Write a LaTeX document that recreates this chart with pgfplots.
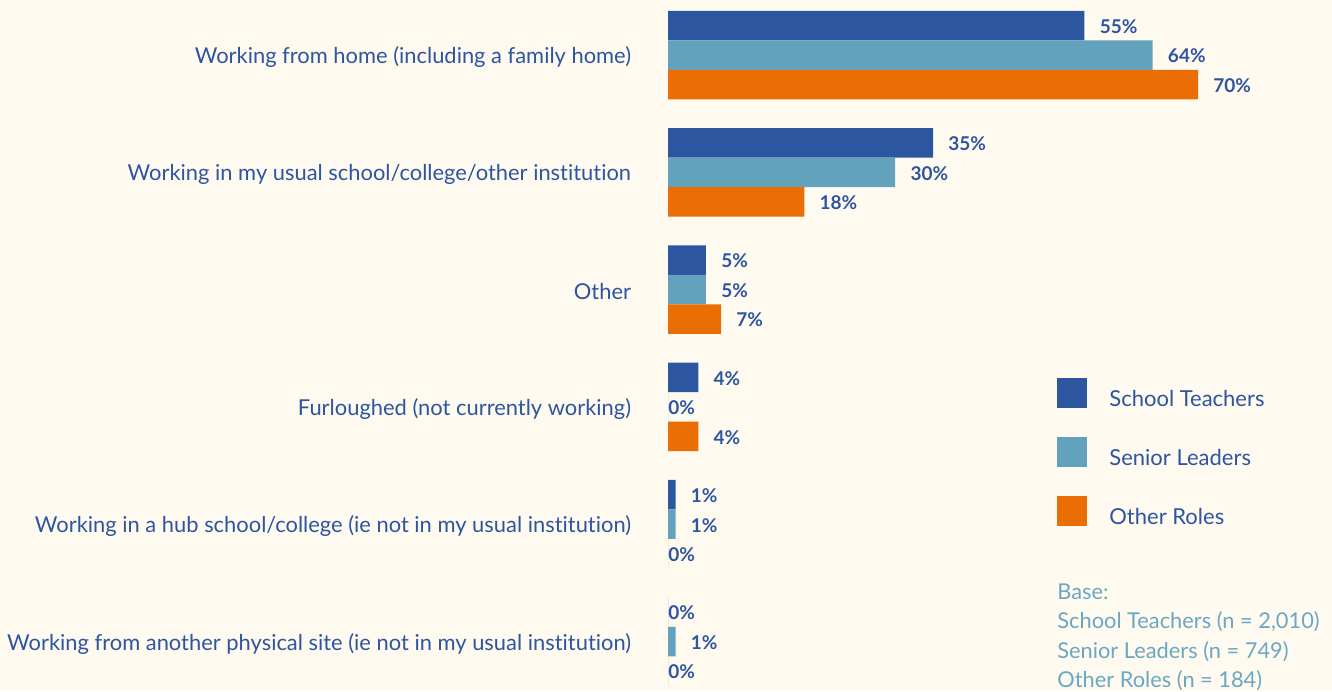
\documentclass[border=0pt]{standalone}
\usepackage{fontspec}
\setmainfont[Ligatures=NoCommon]{Lato}
\usepackage{pgfplots}
\usepackage{pgfplotstable}
\pgfplotsset{compat=1.18}

\definecolor{bgc}{HTML}{FFFAF0}
\definecolor{stblue}{HTML}{2C56A0}
\definecolor{slteal}{HTML}{63A2BC}
\definecolor{ororange}{HTML}{EB6E05}
\definecolor{txtblue}{HTML}{2E55A0}
\definecolor{basetxt}{HTML}{6AA7C2}

% share of respondents by working arrangement (%)
\pgfplotstableread{
idx st sl or
0 55 64 70
1 35 30 18
2 5 5 7
3 4 0 4
4 1 1 0
5 0 1 0
}\worktable

\begin{document}
\begin{tikzpicture}
\path[use as bounding box, fill=bgc] (0,0) rectangle (666pt,345.5pt);
\begin{axis}[
    anchor=origin, at={(334pt,318pt)},
    x=3.7857pt, y=58.65pt,
    xmin=0, xmax=75, ymin=-0.5, ymax=5.5,
    y dir=reverse,
    xbar, bar width=14.75pt,
    axis line style={draw=none},
    tick style={draw=none},
    xtick=\empty,
    ytick={0,...,5},
    yticklabels={
        Working from home (including a family home),
        Working in my usual school/college/other institution,
        Other,
        Furloughed (not currently working),
        Working in a hub school/college (ie not in my usual institution),
        Working from another physical site (ie not in my usual institution)},
    yticklabel style={anchor=east, inner sep=0pt, xshift=-14pt, yshift=-1pt,
        font=\fontsize{10.95}{13}\selectfont, text=txtblue},
    clip=false,
    nodes near coords={\pgfmathprintnumber[fixed,precision=0]{\pgfplotspointmeta}\%},
    nodes near coords style={anchor=west, inner sep=0pt, xshift=\lshift pt, yshift=-0.5pt,
        font=\fontsize{9.5}{11}\selectfont\bfseries, text=txtblue},
    /pgf/number format/assume math mode=true,
    legend style={at={(0.685,0.4588)}, anchor=north west, draw=none, fill=none,
        inner sep=0pt, row sep=11.75pt, column sep=9pt,
        font=\fontsize{11}{13}\selectfont, text=txtblue,
        cells={anchor=west}},
    legend image code/.code={\fill[#1] (0pt,-4pt) rectangle (15pt,11pt);},
]
\addplot[fill=stblue, draw=none, bar shift=14.75pt,
    visualization depends on={ifthenelse(\thisrow{st}>0,7.5,0) \as \lshift}]
    table[x=st, y=idx] {\worktable};
\addlegendentry{School Teachers}
\addplot[fill=slteal, draw=none, bar shift=0pt,
    visualization depends on={ifthenelse(\thisrow{sl}>0,7.5,0) \as \lshift}]
    table[x=sl, y=idx] {\worktable};
\addlegendentry{Senior Leaders}
\addplot[fill=ororange, draw=none, bar shift=-14.75pt,
    visualization depends on={ifthenelse(\thisrow{or}>0,7.5,0) \as \lshift}]
    table[x=or, y=idx] {\worktable};
\addlegendentry{Other Roles}
\end{axis}
\node[anchor=north west, inner sep=0pt, align=left, text=basetxt,
    font=\fontsize{10.9}{14.75}\selectfont] at (528.5pt,54pt)
    {Base:\\School Teachers (n = 2,010)\\Senior Leaders (n = 749)\\Other Roles (n = 184)};
\end{tikzpicture}
\end{document}
